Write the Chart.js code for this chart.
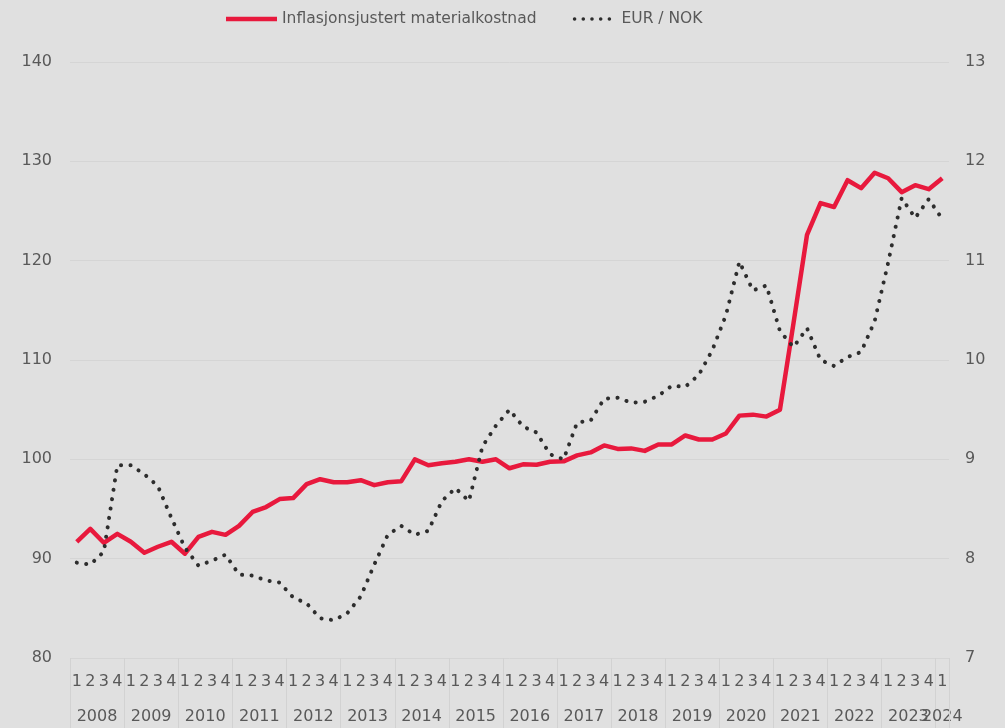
<!DOCTYPE html>
<html lang="no">
<head>
    <meta charset="UTF-8">
    <title>Materialkostnad og EUR/NOK</title>
    <script src="https://cdn.jsdelivr.net/npm/chart.js"></script>
    <style>
        html, body {
            margin: 0;
            padding: 0;
            background: #e0e0e0;
        }
        canvas {
            display: block;
        }
    </style>
</head>
<body>
    <canvas id="kostnadChart" width="1005" height="728"></canvas>

    <script>
        // Data: kvartalsvis, 2008 K1 - 2024 K1
        const years = [2008, 2009, 2010, 2011, 2012, 2013, 2014, 2015, 2016,
                       2017, 2018, 2019, 2020, 2021, 2022, 2023, 2024];
        const quartersInYear = [4, 4, 4, 4, 4, 4, 4, 4, 4, 4, 4, 4, 4, 4, 4, 4, 1];

        const materialCost = [
            91.7, 93.0, 91.6, 92.5,   91.7, 90.6, 91.2, 91.7,
            90.5, 92.2, 92.7, 92.4,   93.3, 94.7, 95.2, 96.0,
            96.1, 97.5, 98.0, 97.7,   97.7, 97.9, 97.4, 97.7,
            97.8, 100.0, 99.4, 99.6,  99.75, 100.0, 99.75, 100.0,
            99.1, 99.5, 99.45, 99.75, 99.8, 100.4, 100.7, 101.4,
            101.05, 101.1, 100.85, 101.5, 101.5, 102.4, 102.0, 102.0,
            102.6, 104.4, 104.5, 104.3, 105.0, 113.7, 122.6, 125.8,
            125.4, 128.1, 127.3, 128.85, 128.3, 126.9, 127.6, 127.2,
            128.3
        ];

        const eurNok = [
            7.96, 7.94, 8.07, 8.94,   8.94, 8.85, 8.73, 8.41,
            8.11, 7.93, 7.98, 8.04,   7.84, 7.83, 7.78, 7.76,
            7.61, 7.55, 7.40, 7.38,   7.45, 7.62, 7.94, 8.24,
            8.33, 8.24, 8.28, 8.58,   8.71, 8.58, 9.13, 9.34,
            9.50, 9.33, 9.27, 9.05,   9.00, 9.37, 9.39, 9.61,
            9.62, 9.57, 9.58, 9.64,   9.74, 9.73, 9.85, 10.10,
            10.45, 10.99, 10.70, 10.75, 10.29, 10.13, 10.32, 10.00,
            9.94, 10.03, 10.08, 10.39, 10.98, 11.63, 11.43, 11.62,
            11.42
        ];

        const leftTicks = { min: 80, max: 140, step: 10 };
        const rightTicks = { min: 7, max: 13, step: 1 };

        // kvartalsetiketter 1,2,3,4 per år
        const quarterLabels = [];
        years.forEach((yr, k) => {
            for (let q = 1; q <= quartersInYear[k]; q++) {
                quarterLabels.push(String(q));
            }
        });

        const textColor = '#595959';
        const fontFamily = "'DejaVu Sans', Verdana, sans-serif";

        // årstall og skillelinjer under x-aksen
        const yearAxis = {
            id: 'yearAxis',
            afterDraw(chart) {
                const { ctx, chartArea, scales } = chart;
                const x = scales.x;
                const half = (x.getPixelForValue(1) - x.getPixelForValue(0)) / 2;
                ctx.save();
                ctx.strokeStyle = '#d2d2d2';
                ctx.lineWidth = 1;
                ctx.fillStyle = textColor;
                ctx.font = '16px ' + fontFamily;
                ctx.textAlign = 'center';
                ctx.textBaseline = 'middle';
                let first = 0;
                years.forEach((yr, k) => {
                    const last = first + quartersInYear[k] - 1;
                    const left = Math.round(x.getPixelForValue(first) - half) + 0.5;
                    ctx.beginPath();
                    ctx.moveTo(left, chartArea.bottom);
                    ctx.lineTo(left, chart.height);
                    ctx.stroke();
                    const mid = (x.getPixelForValue(first) + x.getPixelForValue(last)) / 2;
                    ctx.fillText(String(yr), mid, 717);
                    first = last + 1;
                });
                const end = Math.round(x.getPixelForValue(first - 1) + half) + 0.5;
                ctx.beginPath();
                ctx.moveTo(end, chartArea.bottom);
                ctx.lineTo(end, chart.height);
                ctx.stroke();
                ctx.restore();
            }
        };

        // forklaring øverst
        const topLegend = {
            id: 'topLegend',
            afterDraw(chart) {
                const ctx = chart.ctx;
                const sets = chart.data.datasets;
                const y = 19;
                ctx.save();
                ctx.font = '15.5px ' + fontFamily;
                ctx.textBaseline = 'middle';
                ctx.fillStyle = textColor;

                let cx = 226;
                // rød linje
                ctx.strokeStyle = sets[0].borderColor;
                ctx.lineWidth = sets[0].borderWidth;
                ctx.lineCap = 'butt';
                ctx.beginPath();
                ctx.moveTo(cx, y);
                ctx.lineTo(cx + 51, y);
                ctx.stroke();
                cx += 56;
                ctx.fillText(sets[0].label, cx, y);
                cx += ctx.measureText(sets[0].label).width + 36;

                // prikket linje
                ctx.strokeStyle = sets[1].borderColor;
                ctx.lineWidth = 3.5;
                ctx.lineCap = 'round';
                ctx.setLineDash([0.1, 8.6]);
                ctx.beginPath();
                ctx.moveTo(cx + 2, y);
                ctx.lineTo(cx + 45, y);
                ctx.stroke();
                ctx.setLineDash([]);
                cx += 49;
                ctx.fillText(sets[1].label, cx, y);
                ctx.restore();
            }
        };

        const ctx = document.getElementById('kostnadChart').getContext('2d');
        new Chart(ctx, {
            type: 'line',
            data: {
                labels: quarterLabels,
                datasets: [
                    {
                        label: 'Inflasjonsjustert materialkostnad',
                        data: materialCost,
                        yAxisID: 'y',
                        borderColor: '#e8193d',
                        borderWidth: 4.5,
                        borderJoinStyle: 'round',
                        pointRadius: 0,
                        tension: 0,
                        order: 1
                    },
                    {
                        label: 'EUR / NOK',
                        data: eurNok,
                        yAxisID: 'y1',
                        borderColor: '#2d2d2d',
                        borderWidth: 4,
                        borderDash: [0.1, 9.4],
                        borderCapStyle: 'round',
                        pointRadius: 0,
                        tension: 0,
                        order: 0
                    }
                ]
            },
            options: {
                responsive: false,
                animation: false,
                layout: { padding: { top: 62, right: 0, left: 0, bottom: 0 } },
                plugins: {
                    legend: { display: false },
                    tooltip: { enabled: false }
                },
                scales: {
                    x: {
                        offset: true,
                        grid: { display: false },
                        border: { display: false },
                        ticks: {
                            autoSkip: false,
                            maxRotation: 0,
                            minRotation: 0,
                            color: textColor,
                            padding: 6,
                            font: { family: fontFamily, size: 16 }
                        },
                        afterFit: (scale) => { scale.height = 70; }
                    },
                    y: {
                        position: 'left',
                        min: leftTicks.min,
                        max: leftTicks.max,
                        ticks: {
                            stepSize: leftTicks.step,
                            color: textColor,
                            padding: 18,
                            font: { family: fontFamily, size: 16 }
                        },
                        grid: { color: '#d5d5d5', lineWidth: 1, drawTicks: false },
                        border: { display: false },
                        afterFit: (scale) => { scale.width = 70; }
                    },
                    y1: {
                        position: 'right',
                        min: rightTicks.min,
                        max: rightTicks.max,
                        ticks: {
                            stepSize: rightTicks.step,
                            color: textColor,
                            padding: 16,
                            font: { family: fontFamily, size: 16 }
                        },
                        grid: { drawOnChartArea: false, drawTicks: false },
                        border: { display: false },
                        afterFit: (scale) => { scale.width = 56; }
                    }
                }
            },
            plugins: [yearAxis, topLegend]
        });
    </script>
</body>
</html>
